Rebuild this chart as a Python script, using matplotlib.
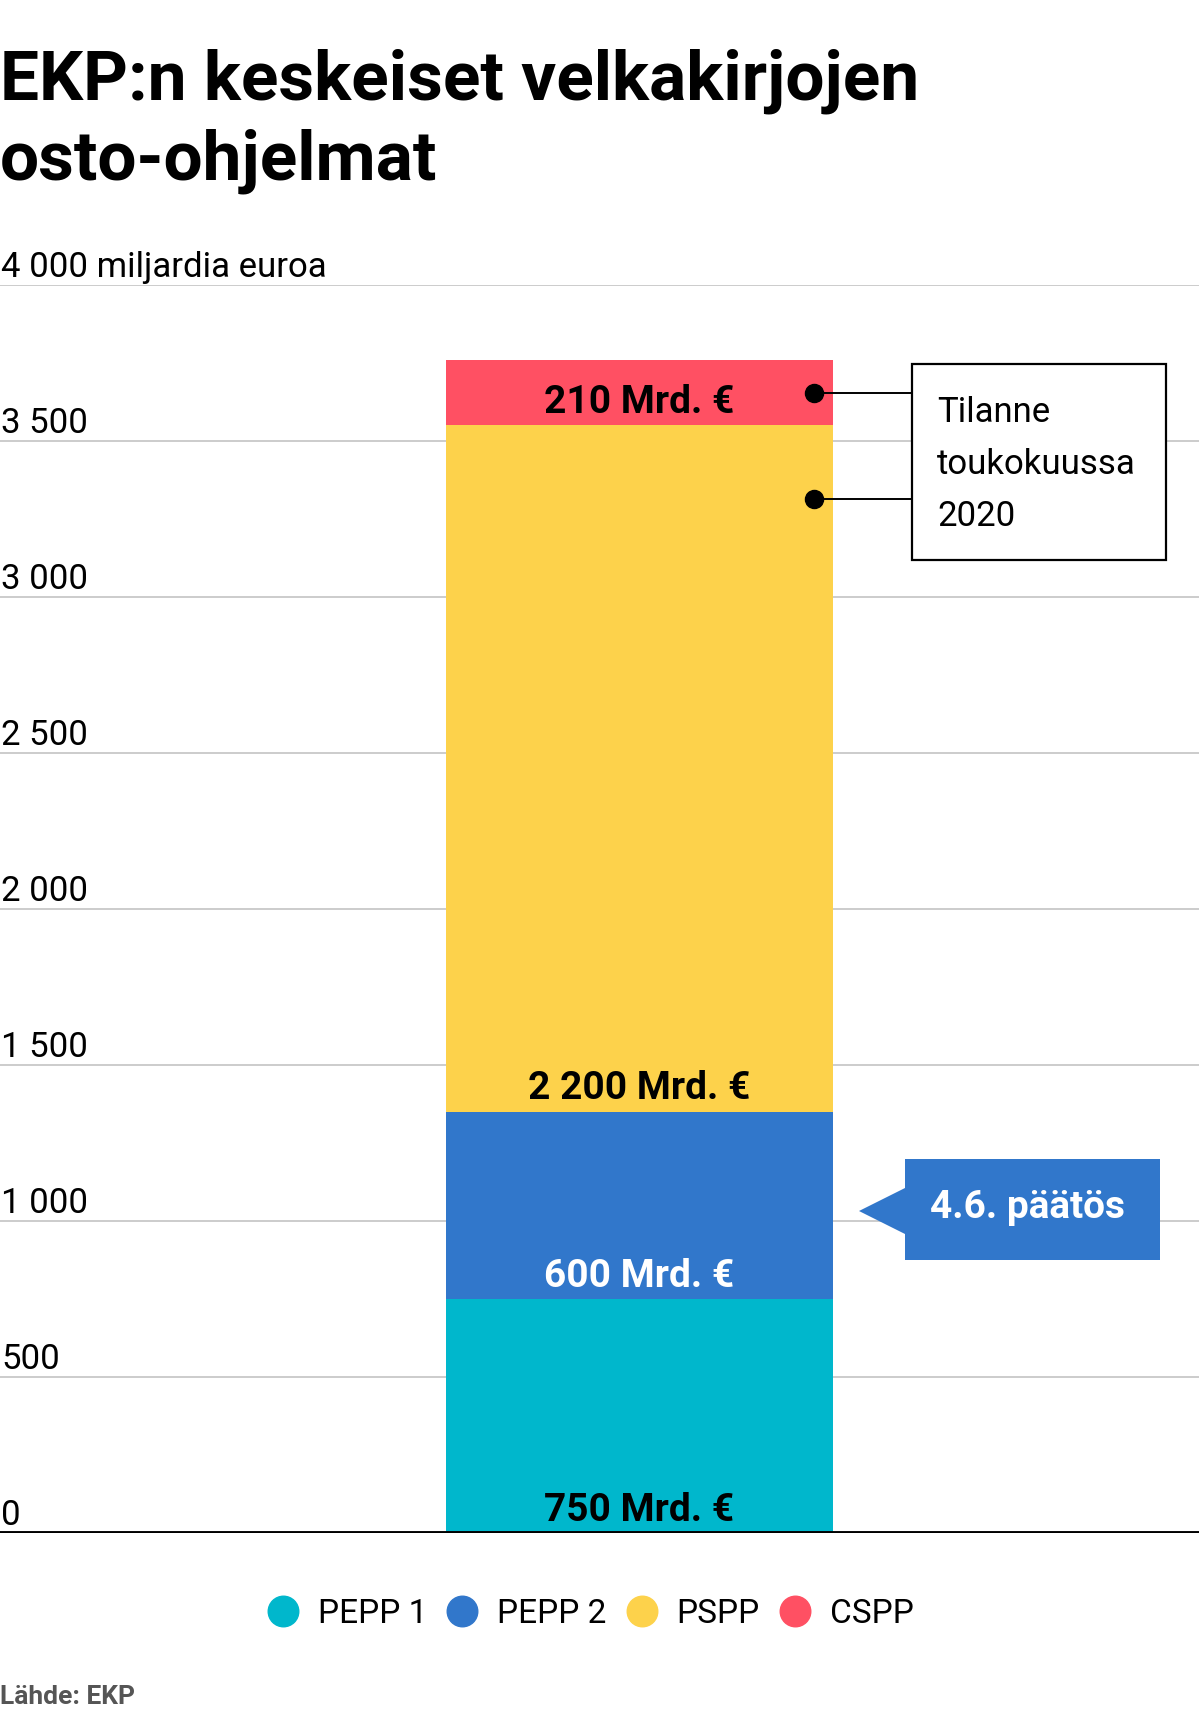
import matplotlib.pyplot as plt
from matplotlib.patches import Rectangle, Polygon
from matplotlib.lines import Line2D
from matplotlib.transforms import Affine2D, blended_transform_factory

plt.rcParams['font.family'] = ['Roboto', 'DejaVu Sans']

# data
programs = ["PEPP 1", "PEPP 2", "PSPP", "CSPP"]
values = [750, 600, 2200, 210]
labels = ["750 Mrd. €", "600 Mrd. €", "2 200 Mrd. €", "210 Mrd. €"]
colors = ["#00b7cc", "#3177cb", "#fdd24b", "#ff5063"]
label_colors = ["black", "white", "black", "black"]
yticks = [0, 500, 1000, 1500, 2000, 2500, 3000, 3500, 4000]
ytick_labels = ["0", "500", "1 000", "1 500", "2 000", "2 500", "3 000", "3 500",
                "4 000 miljardia euroa"]

W, H = 1199, 1728
fig = plt.figure(figsize=(W / 100, H / 100), dpi=100)
pix = Affine2D().scale(1 / W, -1 / H).translate(0, 1) + fig.transFigure

# axes: 0 line at y=1533 px, 4000 at y=285 px, full width
ax = fig.add_axes([0, 1 - 1533 / H, 1, (1533 - 285) / H])
ax.set_ylim(0, 4000)
ax.set_xlim(-639.5 / 387, (W - 639.5) / 387)
for s in ax.spines.values():
    s.set_visible(False)
ax.set_xticks([])
ax.set_yticks([])

for t in yticks[1:]:
    ax.axhline(t, color="#cccccc", lw=1.4, zorder=0)
ax.axhline(0, color="black", lw=2.8, zorder=5)

tr = blended_transform_factory(ax.transAxes, ax.transData)
for t, lab in zip(yticks, ytick_labels):
    ax.text(0.001, t + 26, lab, transform=tr, fontsize=25, va="baseline", ha="left")

# stacked bar
bottom = 0
mids = []
for v, c, lab, lc in zip(values, colors, labels, label_colors):
    ax.bar(0, v, width=1, bottom=bottom, color=c, zorder=2)
    ax.text(0, bottom + 40, lab, ha="center", va="baseline", fontsize=28,
            fontweight="bold", color=lc, zorder=3)
    mids.append(bottom + v / 2)
    bottom += v

# "Tilanne toukokuussa 2020" note
box_x0, box_x1 = (912 - 639.5) / 387, (1166 - 639.5) / 387
ax.add_patch(Rectangle((box_x0, 3120), box_x1 - box_x0, 628, facecolor="white",
                       edgecolor="black", lw=1.6, zorder=4))
dot_x = (814 - 639.5) / 387
for yv in [mids[3], 3314]:
    ax.plot([dot_x, box_x0], [yv, yv], color="black", lw=1.4, zorder=4)
    ax.plot(dot_x, yv, "o", color="black", markersize=13, zorder=5)
for i, line in enumerate(["Tilanne", "toukokuussa", "2020"]):
    fig.text(937, 422 + 52 * i, line, transform=pix, fontsize=25, va="baseline",
             ha="left")

# "4.6. päätös" callout
callout = Polygon([(905, 1159), (1160, 1159), (1160, 1260), (905, 1260),
                   (905, 1234), (859, 1211), (905, 1188)], closed=True,
                  transform=pix, facecolor="#3177cb", edgecolor="none")
fig.add_artist(callout)
fig.text(1027, 1218, "4.6. päätös", transform=pix, fontsize=28, fontweight="bold",
         color="white", ha="center", va="baseline")

# title
fig.text(0, 100, "EKP:n keskeiset velkakirjojen", transform=pix, fontsize=50,
         fontweight="bold", va="baseline")
fig.text(0, 180, "osto-ohjelmat", transform=pix, fontsize=50,
         fontweight="bold", va="baseline")

# legend
handles = [Line2D([], [], marker="o", linestyle="none", markersize=22, color=c)
           for c in colors]
fig.legend(handles, programs, loc="center", bbox_to_anchor=(590 / W, 1 - 1614 / H),
           ncol=4, frameon=False, fontsize=24, handlelength=1.0,
           handletextpad=0.55, columnspacing=0.55, borderpad=0)

fig.text(0, 1704, "Lähde: EKP", transform=pix, fontsize=19, fontweight="bold",
         color="#555555", va="baseline")

fig.savefig("out.png", dpi=100)
